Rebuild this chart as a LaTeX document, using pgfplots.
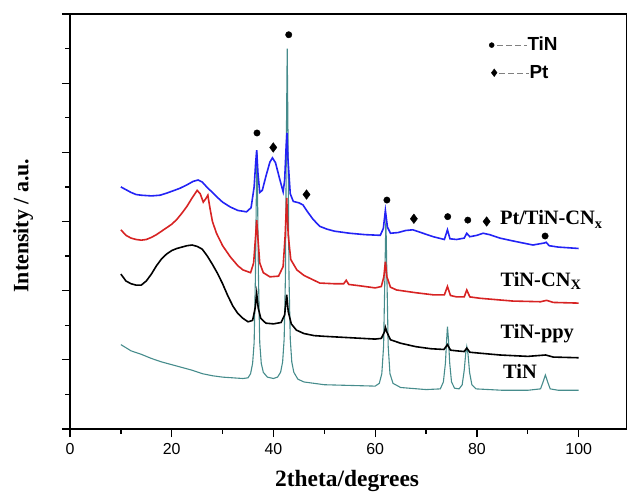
\documentclass[border=0pt]{standalone}
\usepackage{fontspec}
\setmainfont{Liberation Serif}
\setsansfont{Liberation Sans}
\usepackage{pgfplots}
\pgfplotsset{compat=1.18}

\definecolor{tinteal}{RGB}{70,140,140}
\definecolor{cnred}{RGB}{215,35,35}
\definecolor{ptblue}{RGB}{35,35,245}

\begin{document}
\begin{tikzpicture}
\begin{axis}[scale only axis, width=556.5bp, height=415bp,
  at={(0,0)}, anchor=south west,
  xmin=0, xmax=109.4, ymin=0, ymax=6,
  axis line style={line width=1.5bp},
  tick align=outside, tick pos=left,
  xtick={0,20,...,100}, minor xtick={10,30,...,90},
  ytick={0,...,6}, minor ytick={0.5,1.5,...,5.5}, yticklabels={},
  major tick length=8bp, minor tick length=4.5bp,
  every tick/.style={black, line width=1.3bp},
  tick label style={font=\sffamily\fontsize{16}{18}\selectfont},
  xticklabel style={yshift=-3bp},
  /pgf/number format/assume math mode=true,
  xlabel={2theta/degrees}, ylabel={Intensity / a.u.},
  every axis x label/.style={at={(axis description cs:0.498,-0.125)}, anchor=center,
    font=\bfseries\fontsize{23.5}{26}\selectfont},
  every axis y label/.style={at={(axis description cs:-0.084,0.49)}, anchor=center, rotate=90,
    font=\bfseries\fontsize{22}{26}\selectfont},
  clip=false]

% TiN
\addplot[tinteal, line width=1.1bp] coordinates {(10,1.22) (12,1.13) (14,1.08) (16,1.02) (18,0.97) (20,0.93) (22,0.89) (24,0.85) (26,0.80) (28,0.77) (30,0.75) (32,0.74) (34,0.73) (35,0.74) (35.5,0.80) (35.9,0.95) (36.2,1.25) (36.45,2.2) (36.6,3.2) (36.75,4.0) (36.9,3.2) (37.05,2.2) (37.3,1.25) (37.6,0.95) (38.0,0.82) (38.8,0.75) (40,0.73) (40.8,0.75) (41.4,0.82) (41.8,0.97) (42.1,1.3) (42.35,2.2) (42.55,4.3) (42.7,5.5) (42.85,4.3) (43.05,2.2) (43.3,1.3) (43.6,0.97) (44.0,0.82) (44.8,0.72) (46,0.68) (50,0.64) (55,0.63) (60,0.62) (60.8,0.66) (61.3,0.80) (61.65,1.2) (61.9,2.2) (62.1,3.05) (62.3,2.2) (62.55,1.2) (62.9,0.80) (63.5,0.66) (65,0.60) (70,0.57) (72.8,0.58) (73.4,0.68) (73.8,0.95) (74.05,1.3) (74.2,1.48) (74.4,1.3) (74.65,0.95) (75.0,0.68) (75.6,0.59) (76.5,0.58) (77.1,0.64) (77.5,0.85) (77.8,1.10) (78.0,1.19) (78.25,1.08) (78.55,0.82) (79.0,0.64) (79.8,0.58) (85,0.56) (90,0.56) (92.5,0.58) (93.0,0.68) (93.45,0.78) (93.9,0.68) (94.4,0.58) (96,0.56) (100,0.56)};

% TiN-ppy
\addplot[black, line width=1.6bp] coordinates {(10,2.24) (11,2.14) (12,2.10) (13,2.08) (14,2.08) (15,2.14) (16,2.24) (17,2.36) (18,2.46) (19,2.53) (20,2.58) (21,2.61) (22,2.63) (23,2.65) (24,2.66) (25,2.64) (26,2.60) (27,2.50) (28,2.38) (29,2.25) (30,2.10) (31,1.93) (32,1.78) (33,1.67) (34,1.60) (35,1.55) (35.9,1.57) (36.4,1.75) (36.7,1.96) (37.0,1.75) (37.5,1.60) (38.5,1.53) (40,1.52) (41.5,1.54) (42.2,1.65) (42.6,1.94) (42.9,1.70) (43.5,1.52) (44.5,1.43) (46,1.38) (48,1.35) (50,1.34) (55,1.32) (60,1.30) (61.2,1.31) (61.8,1.40) (62,1.47) (62.3,1.40) (63,1.29) (65,1.24) (68,1.19) (71,1.16) (73.5,1.15) (74.2,1.22) (74.8,1.14) (76,1.13) (77.5,1.12) (78,1.17) (78.6,1.11) (80,1.10) (84.5,1.07) (90,1.05) (93.5,1.07) (95,1.04) (100,1.03)};

% TiN-CNx
\addplot[cnred, line width=1.6bp] coordinates {(10,2.88) (11,2.80) (12,2.76) (13,2.74) (14,2.73) (15,2.74) (16,2.77) (17,2.81) (18,2.86) (19,2.91) (20,2.96) (21,3.03) (22,3.12) (23,3.22) (24,3.34) (25,3.45) (25.6,3.40) (26.2,3.28) (26.7,3.33) (27.1,3.38) (27.5,3.20) (28,3.00) (28.8,2.83) (30,2.65) (31.5,2.49) (33,2.36) (34,2.30) (35.5,2.26) (36.1,2.40) (36.5,2.80) (36.7,3.02) (36.9,2.80) (37.3,2.40) (38,2.26) (39.3,2.20) (41,2.21) (41.9,2.35) (42.3,2.80) (42.6,3.34) (42.9,2.80) (43.4,2.45) (44.6,2.30) (46,2.22) (49.1,2.11) (52,2.10) (53.8,2.10) (54.3,2.15) (54.8,2.09) (57,2.07) (60,2.04) (61.2,2.06) (61.7,2.20) (62,2.42) (62.3,2.20) (63,2.05) (64.2,2.01) (68,1.97) (71.4,1.94) (73.6,1.94) (74.2,2.06) (74.8,1.93) (76,1.91) (77.5,1.91) (78,2.01) (78.6,1.91) (80.6,1.89) (87,1.85) (92.5,1.84) (93.7,1.86) (95,1.83) (100,1.82)};

% Pt/TiN-CNx
\addplot[ptblue, line width=1.6bp] coordinates {(10,3.50) (11,3.46) (12,3.42) (13,3.39) (14,3.38) (16,3.37) (17.7,3.38) (19,3.41) (20.5,3.45) (21.6,3.48) (23,3.53) (24.2,3.58) (25.2,3.60) (26,3.57) (27,3.49) (28,3.42) (28.8,3.36) (30,3.28) (31.5,3.21) (33,3.16) (34.7,3.14) (35.6,3.20) (36.2,3.50) (36.5,3.85) (36.7,4.03) (36.95,3.70) (37.3,3.42) (37.8,3.45) (38.5,3.65) (39.3,3.86) (39.8,3.92) (40.4,3.85) (41.2,3.62) (41.9,3.43) (42.2,3.60) (42.5,4.10) (42.65,4.28) (42.85,3.90) (43.3,3.40) (43.9,3.29) (45,3.27) (45.8,3.24) (46.6,3.15) (47.8,3.03) (49.1,2.93) (50.5,2.89) (52,2.86) (55,2.83) (58,2.81) (61,2.80) (61.6,2.90) (62,3.16) (62.4,2.92) (63,2.83) (64.5,2.84) (66,2.87) (67.4,2.88) (69,2.84) (71.4,2.78) (73.6,2.74) (74.2,2.88) (74.7,2.75) (76,2.74) (77.5,2.76) (78,2.83) (78.6,2.78) (80,2.80) (81.2,2.83) (82.5,2.81) (84.5,2.76) (87,2.72) (91,2.66) (93.3,2.69) (93.6,2.70) (94.2,2.65) (96,2.63) (100,2.61)};

% peak markers: TiN (circles), Pt (diamonds)
\addplot[only marks, mark=*, mark size=3.2bp, black] coordinates {(36.76,4.28) (43.0,5.70) (62.3,3.31) (74.25,3.07) (78.2,3.02) (93.4,2.79)};
\addplot[only marks, mark=diamond*, mark size=4.8bp, black] coordinates {(39.96,4.07) (46.5,3.39) (67.6,3.04) (81.9,3.00)};

% key
\addplot[only marks, mark=*, mark size=2.5bp, black] coordinates {(82.9,5.55)};
\addplot[only marks, mark=diamond*, mark size=3.8bp, black] coordinates {(83.4,5.15)};
\draw[gray, line width=0.8bp, dash pattern=on 6bp off 3bp] (axis cs:84.0,5.55) -- (axis cs:89.8,5.55);
\draw[gray, line width=0.8bp, dash pattern=on 6bp off 3bp] (axis cs:84.4,5.14) -- (axis cs:90.2,5.14);
\node[anchor=west, inner sep=0pt, font=\sffamily\bfseries\fontsize{19}{22}\selectfont] at (axis cs:89.9,5.57) {TiN};
\node[anchor=west, inner sep=0pt, font=\sffamily\bfseries\fontsize{19}{22}\selectfont] at (axis cs:90.3,5.16) {Pt};

% series names
\begin{scope}[every node/.style={anchor=base west, inner sep=0pt, font=\bfseries\fontsize{20.5}{24}\selectfont}]
\node at (axis cs:84.5,2.95) {Pt/TiN-CN$_{\mathbf{x}}$};
\node at (axis cs:84.6,2.06) {TiN-CN$_{\mathrm{\mathbf{X}}}$};
\node at (axis cs:84.6,1.315) {TiN-ppy};
\node at (axis cs:85.1,0.737) {TiN};
\end{scope}
\end{axis}
\pgfresetboundingbox
\path[use as bounding box] (-70bp,-63bp) rectangle (558bp,429bp);
\end{tikzpicture}
\end{document}
